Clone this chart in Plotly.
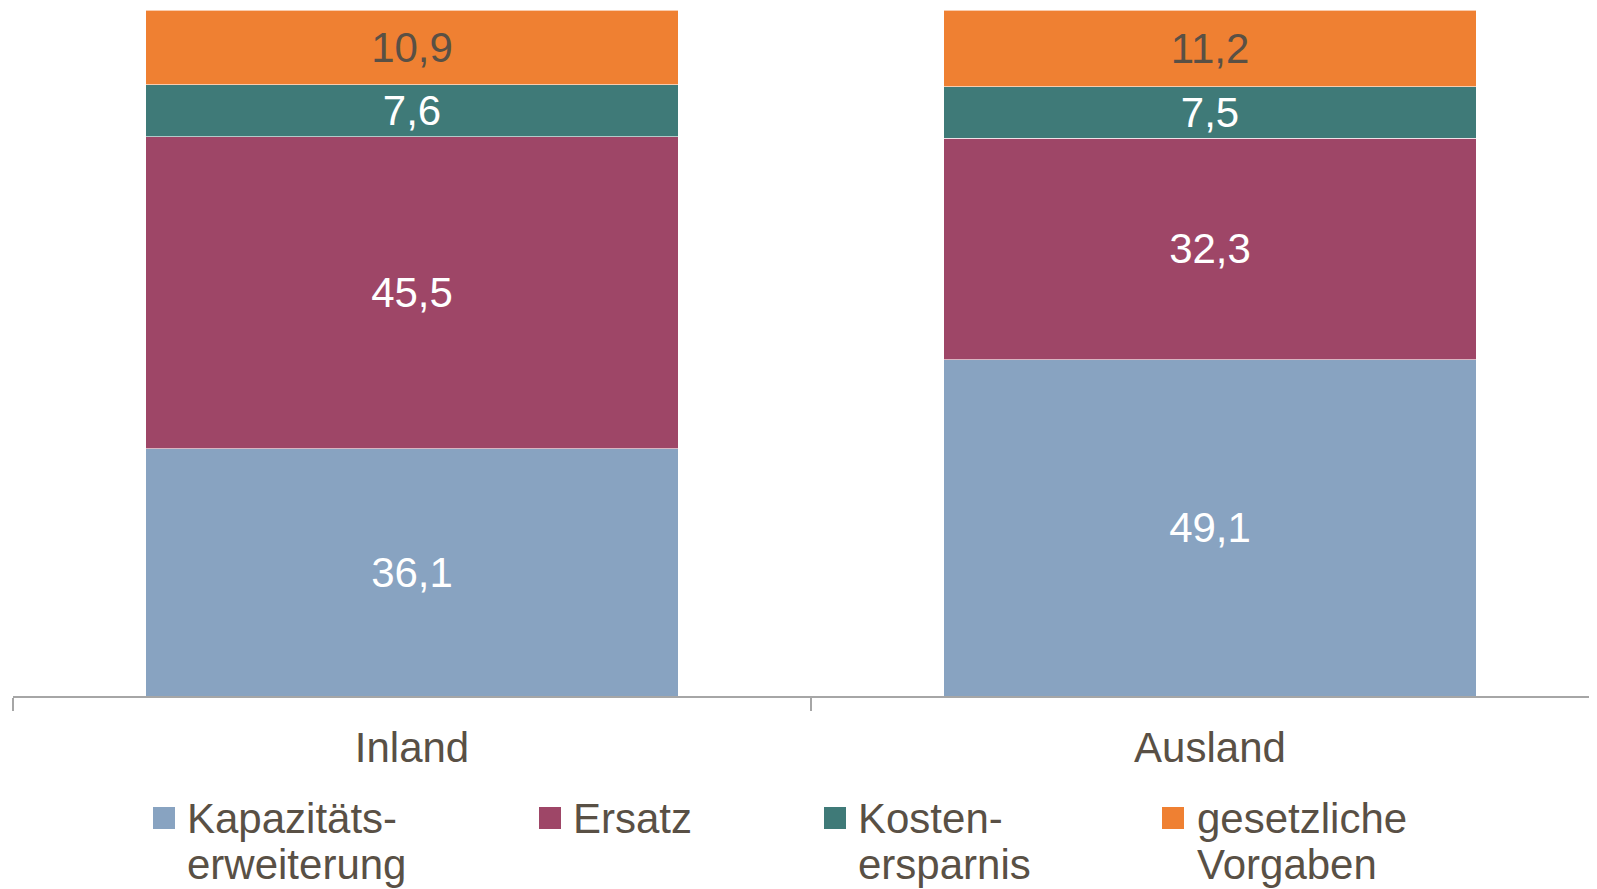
import plotly.graph_objects as go

categories = ["Inland", "Ausland"]
series_names = ["Kapazitäts-<br>erweiterung", "Ersatz", "Kosten-<br>ersparnis", "gesetzliche<br>Vorgaben"]
kapazitaet = [36.1, 49.1]
ersatz = [45.5, 32.3]
kosten = [7.6, 7.5]
gesetz = [10.9, 11.2]

colors = ["#88A3C1", "#9E4667", "#3F7A78", "#EF8032"]
label_colors = ["#FFFFFF", "#FFFFFF", "#FFFFFF", "#595045"]
TEXT = "#595045"
FONT = "Liberation Sans, Arial, sans-serif"

OFF = 8  # page body margin
W, H = 1597 + OFF, 889
ML, MR, MT, MB = 13 - OFF, 0, 10 - OFF, H - (696 - OFF)

fig = go.Figure()
for name, vals, col, lc in zip(series_names, [kapazitaet, ersatz, kosten, gesetz], colors, label_colors):
    fig.add_trace(go.Bar(
        x=categories, y=vals, name=name,
        marker=dict(color=col, line=dict(color="rgba(255,255,255,0.6)", width=1)),
        width=0.667,
        texttemplate="%{y:.1f}", textposition="inside", insidetextanchor="middle",
        constraintext="none",
        textfont=dict(family=FONT, size=42, color=lc),
        showlegend=False, hoverinfo="skip",
    ))

plot_h = H - MT - MB
plot_w = W - ML - MR
def px_x(px):
    return (px - OFF - ML) / plot_w
def px_y(py):
    return (H - MB - (py - OFF)) / plot_h

legend_sq_x = [153, 539, 824, 1162]
legend_txt_x = [185, 571, 856, 1195]
sq_top, sq_bot = 807, 829
line1_y, line2_y = 818, 865

for i, (name, col) in enumerate(zip(series_names, colors)):
    fig.add_shape(type="rect", xref="paper", yref="paper",
                  x0=px_x(legend_sq_x[i]), x1=px_x(legend_sq_x[i] + 22),
                  y0=px_y(sq_bot), y1=px_y(sq_top),
                  fillcolor=col, line=dict(width=0))
    for j, part in enumerate(name.split("<br>")):
        fig.add_annotation(xref="paper", yref="paper",
                           x=px_x(legend_txt_x[i]), y=px_y([line1_y, line2_y][j]),
                           xanchor="left", yanchor="middle", showarrow=False,
                           text=part, font=dict(family=FONT, size=42, color=TEXT))

fig.update_layout(
    width=W, height=H,
    margin=dict(l=ML, r=MR, t=MT, b=MB),
    barmode="stack",
    separators=", ",
    plot_bgcolor="white", paper_bgcolor="white",
    xaxis=dict(range=[-0.5, -0.5 + plot_w / 798], showline=True, linecolor="#A6A6A6", linewidth=2,
               ticks="outside", tickson="boundaries", ticklen=13, tickcolor="#A6A6A6", tickwidth=2,
               ticklabelstandoff=14,
               tickfont=dict(family=FONT, size=42, color=TEXT), showgrid=False),
    yaxis=dict(range=[0, 100.1], visible=False, showgrid=False),
    showlegend=False,
)

fig.write_html("out.html")
